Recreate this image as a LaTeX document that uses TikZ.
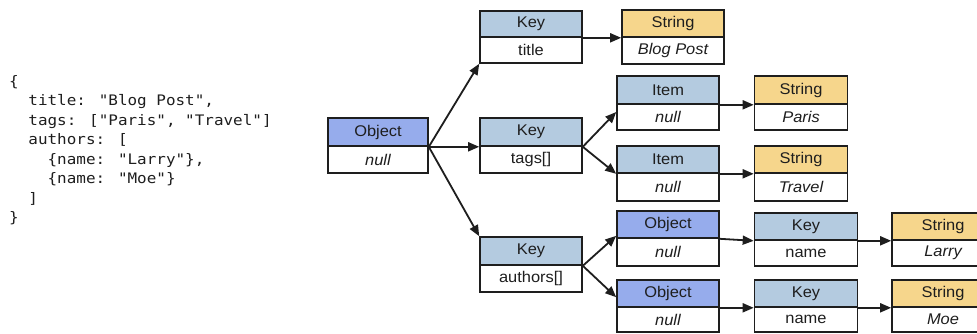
\documentclass[tikz,border=0pt]{standalone}
\usepackage{fontspec}
\usetikzlibrary{arrows.meta,calc}
\newfontfamily\boxfont[FakeStretch=1.06]{Liberation Sans}
\newfontfamily\jsonfont[FakeStretch=1.1]{DejaVu Sans Mono}
\definecolor{objc}{RGB}{150,172,236}
\definecolor{keyc}{RGB}{180,203,224}
\definecolor{strc}{RGB}{246,214,140}
\definecolor{inkc}{RGB}{30,30,30}
\newcommand{\jbox}[9]{%
  \pgfmathsetmacro{\jbhh}{#5-#4}%
  \pgfmathsetmacro{\jbbh}{#6-#5}%
  \node[part,fill=#7,minimum width=#3pt,minimum height=\jbhh pt] (#1h) at (#2,{(#4+#5)/2}) {#8};
  \node[part,fill=white,minimum width=#3pt,minimum height=\jbbh pt] (#1b) at (#2,{(#5+#6)/2}) {#9};
}
\begin{document}
\begin{tikzpicture}[x=1pt,y=-1pt,
  part/.style={draw=inkc,line width=1.6pt,inner sep=0pt,
    font=\boxfont\fontsize{15.5}{17}\selectfont,text=inkc},
  conn/.style={draw=inkc,line width=1.8pt,-{Triangle[length=11pt,width=9pt]}}]
\clip (0,0) rectangle (977,333);
\fill[white] (0,0) rectangle (977,333);
\node[anchor=north west,inner sep=0pt,align=left,text=inkc,
  font=\jsonfont\fontsize{14.5}{19.5}\selectfont] (json) at (9,75) {%
\{\\
\hphantom{xx}title: "Blog Post",\\
\hphantom{xx}tags: ["Paris", "Travel"]\\
\hphantom{xx}authors: [\\
\hphantom{xxxx}\{name: "Larry"\},\\
\hphantom{xxxx}\{name: "Moe"\}\\
\hphantom{xx}]\\
\}};
\jbox{root}{378}{100}{118}{146}{173}{objc}{Object}{\itshape null}
\jbox{ktitle}{531}{102}{11}{37}{63}{keyc}{Key}{title}
\jbox{stitle}{673}{102}{10}{37}{64}{strc}{String}{\itshape Blog Post}
\jbox{ktags}{531}{102}{118}{146}{173}{keyc}{Key}{tags[]}
\jbox{itema}{668}{102}{76}{104}{130}{keyc}{Item}{\itshape null}
\jbox{sparis}{801}{93}{76}{104}{130}{strc}{String}{\itshape Paris}
\jbox{itemb}{668}{102}{146}{173}{201}{keyc}{Item}{\itshape null}
\jbox{stravel}{801}{93}{146}{173}{201}{strc}{String}{\itshape Travel}
\jbox{kauth}{531}{102}{237}{265}{292}{keyc}{Key}{authors[]}
\jbox{obja}{668}{102}{211}{238}{266}{objc}{Object}{\itshape null}
\jbox{knamea}{806}{103}{213}{240}{266}{keyc}{Key}{name}
\jbox{slarry}{943}{102}{213}{240}{266}{strc}{String}{\itshape Larry}
\jbox{objb}{668}{102}{280}{307}{332}{objc}{Object}{\itshape null}
\jbox{knameb}{806}{103}{280}{307}{332}{keyc}{Key}{name}
\jbox{smoe}{943}{102}{280}{307}{332}{strc}{String}{\itshape Moe}
% connectors
\draw[conn] (rooth.south east) -- (ktitleb.south west);
\draw[conn] (rooth.south east) -- (ktagsh.south west);
\draw[conn] (rooth.south east) -- (kauthh.north west);
\draw[conn] (ktitleh.south east) -- (stitleh.south west);
\draw[conn] (ktagsh.south east) -- ($(itemab.north west)!0.32!(itemab.south west)$);
\draw[conn] (ktagsh.south east) -- (itembh.south west);
\draw[conn] (itemah.south east) -- (sparish.south west);
\draw[conn] (itembh.south east) -- (stravelh.south west);
\draw[conn] (kauthh.south east) -- ($(objah.south west)+(0,-3)$);
\draw[conn] (kauthh.south east) -- ($(objbh.south west)!0.37!(objbh.north west)$);
\draw[conn] (objah.south east) -- (knameah.south west);
\draw[conn] (knameah.south east) -- (slarryh.south west);
\draw[conn] (objbh.south east) -- (knamebh.south west);
\draw[conn] (knamebh.south east) -- (smoeh.south west);
\end{tikzpicture}
\end{document}
